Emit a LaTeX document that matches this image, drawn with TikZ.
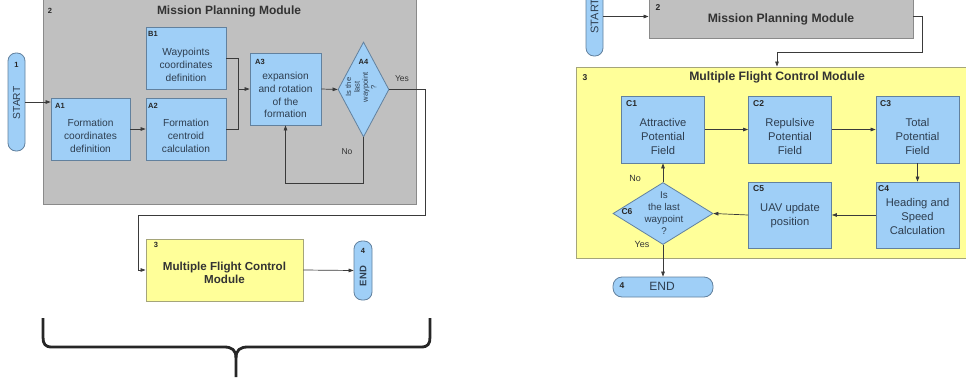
\documentclass[tikz,border=0pt]{standalone}
\usepackage{fontspec}
\setmainfont{Liberation Sans}
\usetikzlibrary{arrows.meta,shapes.geometric}
\definecolor{grayfill}{HTML}{C0C0C0}
\definecolor{grayline}{HTML}{8A8A8A}
\definecolor{bluefill}{HTML}{9FCFF7}
\definecolor{blueline}{HTML}{62819E}
\definecolor{yelfill}{HTML}{FFFF99}
\definecolor{yelline}{HTML}{A5A57A}
\definecolor{txtcol}{HTML}{2E3E50}
\definecolor{conncol}{HTML}{3A3A3A}
\tikzset{
  blk/.style={draw=blueline, fill=bluefill, line width=0.8pt, rectangle, inner sep=0pt},
  dia/.style={draw=blueline, fill=bluefill, line width=0.8pt, diamond, inner sep=0pt},
  pill/.style={draw=blueline, fill=bluefill, line width=0.8pt, rounded corners=8pt, inner sep=0pt},
  graybox/.style={draw=grayline, fill=grayfill, line width=0.9pt, inner sep=0pt},
  yelbox/.style={draw=yelline, fill=yelfill, line width=0.9pt, inner sep=0pt},
  txtl/.style={text=txtcol, font=\fontsize{10.2}{12.8}\selectfont, align=center, inner sep=0pt},
  txtr/.style={text=txtcol, font=\fontsize{11.2}{14}\selectfont, align=center, inner sep=0pt},
  lbl/.style={text=black!85, font=\bfseries\fontsize{7.5}{8}\selectfont, inner sep=0pt},
  lblr/.style={text=black!85, font=\bfseries\fontsize{8.5}{9}\selectfont, inner sep=0pt},
  ttl/.style={font=\bfseries\fontsize{12}{14}\selectfont, text=black!80, inner sep=0pt, align=center},
  smalltxt/.style={font=\fontsize{8.5}{9}\selectfont, text=black!80, inner sep=0pt},
  conn/.style={draw=conncol, line width=0.7pt},
  arr/.style={conn, -{Triangle[length=5pt,width=3.6pt]}},
}
\begin{document}
\begin{tikzpicture}[x=1pt,y=-1pt]
\clip (0,0) rectangle (966,383);
\fill[white] (0,0) rectangle (966,383);
% ================= LEFT =================
\node[graybox, minimum width=373pt, minimum height=215pt] (mp) at (229.5,97) {};
\node[lbl] (mpn) at (50,11) {2};
\node[ttl] (mpt) at (229,11) {Mission Planning Module};
\node[pill, minimum width=17pt, minimum height=98pt] (s1) at (16.5,102) {};
\node[lbl] (s1n) at (16.5,65) {1};
\node[txtl, rotate=90] (s1t) at (16.5,103) {START};
\node[blk, minimum width=79pt, minimum height=62pt] (a1) at (90.5,129) {};
\node[lbl, anchor=north west] (a1l) at (55,103) {A1};
\node[txtl] (a1t) at (90.5,136) {Formation\\coordinates\\definition};
\node[blk, minimum width=80pt, minimum height=62pt] (a2) at (186,129) {};
\node[lbl, anchor=north west] (a2l) at (148,103) {A2};
\node[txtl] (a2t) at (186,136) {Formation\\centroid\\calculation};
\node[blk, minimum width=80pt, minimum height=62pt] (b1) at (186,58) {};
\node[lbl, anchor=north west] (b1l) at (148,31) {B1};
\node[txtl] (b1t) at (186,65) {Waypoints\\coordinates\\definition};
\node[blk, minimum width=71pt, minimum height=72pt] (a3) at (285.5,89) {};
\node[lbl, anchor=north west] (a3l) at (255,59) {A3};
\node[txtl] (a3t) at (285.5,95) {expansion\\and rotation\\of the\\formation};
\node[dia, minimum width=51pt, minimum height=95pt] (a4) at (363.5,89.5) {};
\node[lbl] (a4l) at (363.5,62) {A4};
\node[txtl, rotate=90, font=\fontsize{7.6}{8.4}\selectfont] (a4t) at (361,87) {Is the\\last\\waypoint\\?};
\node[smalltxt] (yes1) at (402,79) {Yes};
\node[smalltxt] (no1) at (347,152) {No};
\node[yelbox, minimum width=157pt, minimum height=62pt] (f3) at (224.5,270) {};
\node[lbl] (f3n) at (156,245) {3};
\node[ttl, font=\bfseries\fontsize{11.6}{13.5}\selectfont] (f3t) at (224.5,273) {Multiple Flight Control\\Module};
\node[pill, minimum width=18pt, minimum height=59pt] (e4) at (363,270.5) {};
\node[lbl] (e4n) at (363,251) {4};
\node[txtl, rotate=90, font=\bfseries\fontsize{9.5}{11}\selectfont] (e4t) at (363,276) {END};
% connectors left
\coordinate (j) at (238,89);
\coordinate (lp) at (285.5,183);
\coordinate (c1) at (425,215);
\coordinate (c2) at (138,215);
\draw[arr] (s1.east) -- (s1.east -| a1.west);
\draw[arr] (a1.east) -- (a2.west);
\draw[conn] (b1.east) -| (j);
\draw[conn] (a2.east) -| (j);
\draw[arr] (j) -- (a3.west);
\draw[arr] (a3.east) -- (a4.west);
\draw[arr] (a4.south) |- (lp) -- (a3.south);
\draw[arr] (a4.east) -| (c1) -- (c2) |- (f3.west);
\draw[arr] (f3.east) -- (e4.west);
% brace
\draw[line width=2.8pt, black!85, line join=round]
  (43,318) -- (43,337) .. controls (43,344) and (45,347) .. (52,347) -- (224,347)
  .. controls (232,347) and (236,350) .. (236,358) -- (236,377);
\draw[line width=2.8pt, black!85, line join=round]
  (236,358) .. controls (236,350) and (240,347) .. (248,347) -- (421,347)
  .. controls (428,347) and (430,344) .. (430,337) -- (430,318);
% ================= RIGHT =================
\node[pill, minimum width=17pt, minimum height=100pt] (s2) at (594.5,6) {};
\node[txtl, rotate=90, font=\fontsize{11}{13}\selectfont] (s2t) at (594.5,16) {START};
\node[graybox, minimum width=264pt, minimum height=43pt] (m2) at (781,16.5) {};
\node[lblr] (m2n) at (658,8) {2};
\node[ttl, font=\bfseries\fontsize{12.2}{14}\selectfont] (m2t) at (781,19) {Mission Planning Module};
\node[yelbox, minimum width=402pt, minimum height=191pt] (y3) at (777,162.5) {};
\node[lblr] (y3n) at (585,78) {3};
\node[ttl, font=\bfseries\fontsize{12.2}{14}\selectfont] (y3t) at (777,77) {Multiple Flight Control Module};
\node[blk, minimum width=83pt, minimum height=67pt] (cc1) at (663,129.5) {};
\node[lblr, anchor=north west] (cc1l) at (626,100) {C1};
\node[txtr] (cc1t) at (663,136) {Attractive\\Potential\\Field};
\node[blk, minimum width=83pt, minimum height=67pt] (cc2) at (790,129.5) {};
\node[lblr, anchor=north west] (cc2l) at (753,100) {C2};
\node[txtr] (cc2t) at (790,136) {Repulsive\\Potential\\Field};
\node[blk, minimum width=83pt, minimum height=67pt] (cc3) at (917.5,129.5) {};
\node[lblr, anchor=north west] (cc3l) at (880,100) {C3};
\node[txtr] (cc3t) at (917.5,136) {Total\\Potential\\Field};
\node[blk, minimum width=83pt, minimum height=66pt] (cc4) at (917.5,215) {};
\node[lblr, anchor=north west] (cc4l) at (878,185) {C4};
\node[txtr] (cc4t) at (917.5,216) {Heading and\\Speed\\Calculation};
\node[blk, minimum width=83pt, minimum height=66pt] (cc5) at (790,215) {};
\node[lblr, anchor=north west] (cc5l) at (753,185) {C5};
\node[txtr] (cc5t) at (790,216) {UAV update\\position};
\node[dia, minimum width=100pt, minimum height=62pt] (cc6) at (663,213.5) {};
\node[lblr] (cc6l) at (627,212) {C6};
\node[txtr, font=\fontsize{9.8}{12}\selectfont] (cc6t) at (664,213.5) {Is\\the last\\waypoint\\?};
\node[smalltxt, font=\fontsize{9}{10}\selectfont] (no2) at (635,178) {No};
\node[smalltxt, font=\fontsize{9}{10}\selectfont] (yes2) at (642,244) {Yes};
\node[pill, minimum width=100pt, minimum height=20pt, rounded corners=9pt] (e2) at (663,287) {};
\node[lblr] (e2n) at (622,286) {4};
\node[txtr, font=\fontsize{12}{14}\selectfont] (e2t) at (662,286) {END};
% connectors right
\coordinate (r1) at (922,52);
\draw[arr] (s2.east |- m2.west) -- (m2.west);
\draw[arr] (m2.east) -| (r1) -| (y3.north);
\draw[arr] (cc1.east) -- (cc2.west);
\draw[arr] (cc2.east) -- (cc3.west);
\draw[arr] (cc3.south) -- (cc4.north);
\draw[arr] (cc4.west) -- (cc5.east);
\draw[arr] (cc5.west) -- (cc6.east);
\draw[arr] (cc6.north) -- (cc1.south);
\draw[arr] (cc6.south) -- (e2.north);
\end{tikzpicture}
\end{document}
